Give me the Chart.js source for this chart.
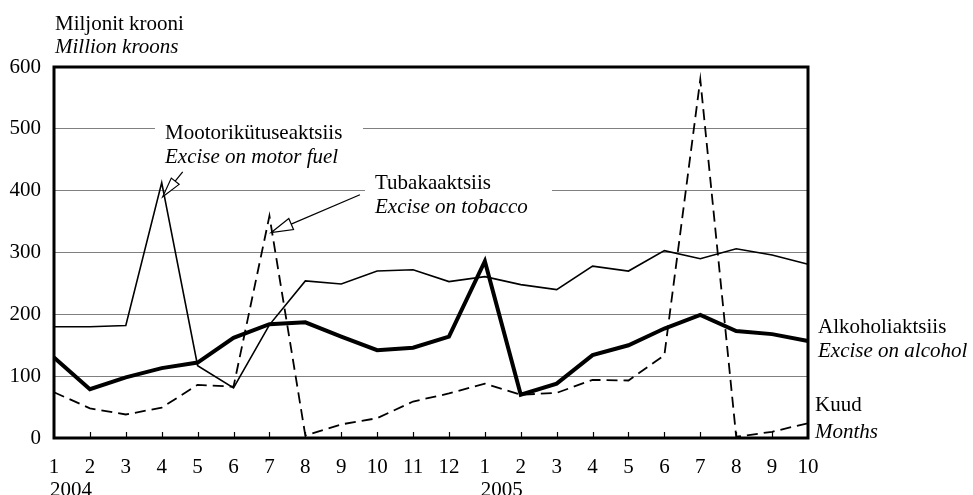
<!DOCTYPE html>
<html>
<head>
<meta charset="utf-8">
<script src="https://cdn.jsdelivr.net/npm/chart.js@4.4.1/dist/chart.umd.min.js"></script>
<style>
  html, body { margin: 0; padding: 0; background: #fff; }
</style>
</head>
<body>
<canvas id="myChart" width="973" height="495"></canvas>
<script>
const kuud = ['1','2','3','4','5','6','7','8','9','10','11','12','1','2','3','4','5','6','7','8','9','10']
const aastaAlgus = [0, 12]
const aastad = ['2004', '2005']
const yTicks = [0, 100, 200, 300, 400, 500, 600]

const mootorikytus = [180, 180, 182, 413, 117, 81, 183, 254, 249, 270, 272, 253, 261, 248, 240, 278, 270, 303, 290, 306, 296, 281]
const tubakas = [74, 48, 38, 49, 86, 83, 359, 4, 22, 32, 59, 72, 88, 70, 73, 94, 93, 134, 580, 2, 10, 24]
const alkohol = [130, 79, 98, 113, 122, 162, 184, 187, 164, 142, 146, 164, 286, 70, 88, 134, 150, 177, 199, 173, 168, 157]

const serif = 'Liberation Serif'
const font = (style) => `${style} 21px "${serif}"`

// hollow arrow head with a shaft
const nool = (ctx, tx, ty, fx, fy, len, half) => {
    const a = Math.atan2(ty - fy, tx - fx)
    const ux = Math.cos(a), uy = Math.sin(a)
    const bx = tx - ux * len, by = ty - uy * len
    ctx.beginPath()
    ctx.moveTo(fx, fy)
    ctx.lineTo(bx, by)
    ctx.stroke()
    ctx.beginPath()
    ctx.moveTo(tx, ty)
    ctx.lineTo(bx - uy * half, by + ux * half)
    ctx.lineTo(bx + uy * half, by - ux * half)
    ctx.closePath()
    ctx.fillStyle = '#fff'
    ctx.fill()
    ctx.stroke()
}

const tekst = (ctx, str, x, y, style) => {
    ctx.font = font(style)
    ctx.fillStyle = '#000'
    ctx.textAlign = 'left'
    ctx.textBaseline = 'middle'
    ctx.fillText(str, x, y)
}

const kujundus = {
    id: 'kujundus',
    beforeDatasetsDraw(chart) {
        const ctx = chart.ctx
        ctx.save()
        ctx.fillStyle = '#fff'
        ctx.fillRect(155, 123, 208, 12)
        ctx.fillRect(365, 185, 187, 12)
        ctx.restore()
    },
    afterDraw(chart) {
        const ctx = chart.ctx
        const { left, right, top, bottom } = chart.chartArea
        const x = chart.scales.x, y = chart.scales.y
        ctx.save()

        // inward tick marks
        ctx.strokeStyle = '#000'
        ctx.lineWidth = 1.2
        for (let i = 1; i < kuud.length - 1; i++) {
            const px = Math.round(x.getPixelForValue(i)) + 0.5
            ctx.beginPath()
            ctx.moveTo(px, bottom)
            ctx.lineTo(px, bottom - 6)
            ctx.stroke()
        }

        // frame
        ctx.lineWidth = 3
        ctx.strokeRect(left, top, right - left, bottom - top)

        // arrows
        ctx.lineWidth = 1.2
        const mx = x.getPixelForValue(3) + 1, my = y.getPixelForValue(390)
        nool(ctx, mx, my, mx + 20, my - 25, 20, 5)
        const tx = x.getPixelForValue(6) + 1.5, ty = y.getPixelForValue(332)
        nool(ctx, tx, ty, tx + 89, ty - 38, 22, 6)

        // texts
        tekst(ctx, 'Miljonit krooni', 55, 24, 'normal')
        tekst(ctx, 'Million kroons', 55, 47, 'italic')
        tekst(ctx, 'Mootorikütuseaktsiis', 165, 133, 'normal')
        tekst(ctx, 'Excise on motor fuel', 165, 157, 'italic')
        tekst(ctx, 'Tubakaaktsiis', 375, 183, 'normal')
        tekst(ctx, 'Excise on tobacco', 375, 207, 'italic')
        tekst(ctx, 'Alkoholiaktsiis', 818, 327, 'normal')
        tekst(ctx, 'Excise on alcohol', 818, 351, 'italic')
        tekst(ctx, 'Kuud', 815, 405, 'normal')
        tekst(ctx, 'Months', 815, 432, 'italic')

        // year labels under first months
        aastaAlgus.forEach((idx, k) => {
            tekst(ctx, aastad[k], x.getPixelForValue(idx) - 4, 490, 'normal')
        })
        ctx.restore()
    }
}

const datasets = [
    { label: 'Mootorikütuseaktsiis', data: mootorikytus, borderColor: '#000', borderWidth: 1.6 },
    { label: 'Tubakaaktsiis', data: tubakas, borderColor: '#000', borderWidth: 1.8, borderDash: [11, 6] },
    { label: 'Alkoholiaktsiis', data: alkohol, borderColor: '#000', borderWidth: 4 }
]

new Chart(document.querySelector('#myChart'), {
    type: 'line',
    data: { labels: kuud, datasets },
    options: {
        responsive: false,
        animation: false,
        devicePixelRatio: 1,
        layout: { padding: { left: 0, right: 165, top: 67, bottom: 0 } },
        elements: { point: { radius: 0 }, line: { tension: 0, fill: false } },
        plugins: { legend: { display: false }, tooltip: { enabled: false } },
        scales: {
            x: {
                offset: false,
                grid: { display: false, drawTicks: false },
                border: { display: false },
                ticks: { color: '#000', font: { family: serif, size: 21 }, padding: 17, maxRotation: 0, autoSkip: false },
                afterFit: (s) => { s.height = 57 }
            },
            y: {
                min: 0,
                max: 600,
                afterBuildTicks: (s) => { s.ticks = yTicks.map(v => ({ value: v })) },
                grid: { color: '#808080', lineWidth: 1, drawTicks: false },
                border: { display: false },
                ticks: { color: '#000', font: { family: serif, size: 21 }, padding: 13 },
                afterFit: (s) => { s.width = 54 }
            }
        }
    },
    plugins: [kujundus]
})
</script>
</body>
</html>
